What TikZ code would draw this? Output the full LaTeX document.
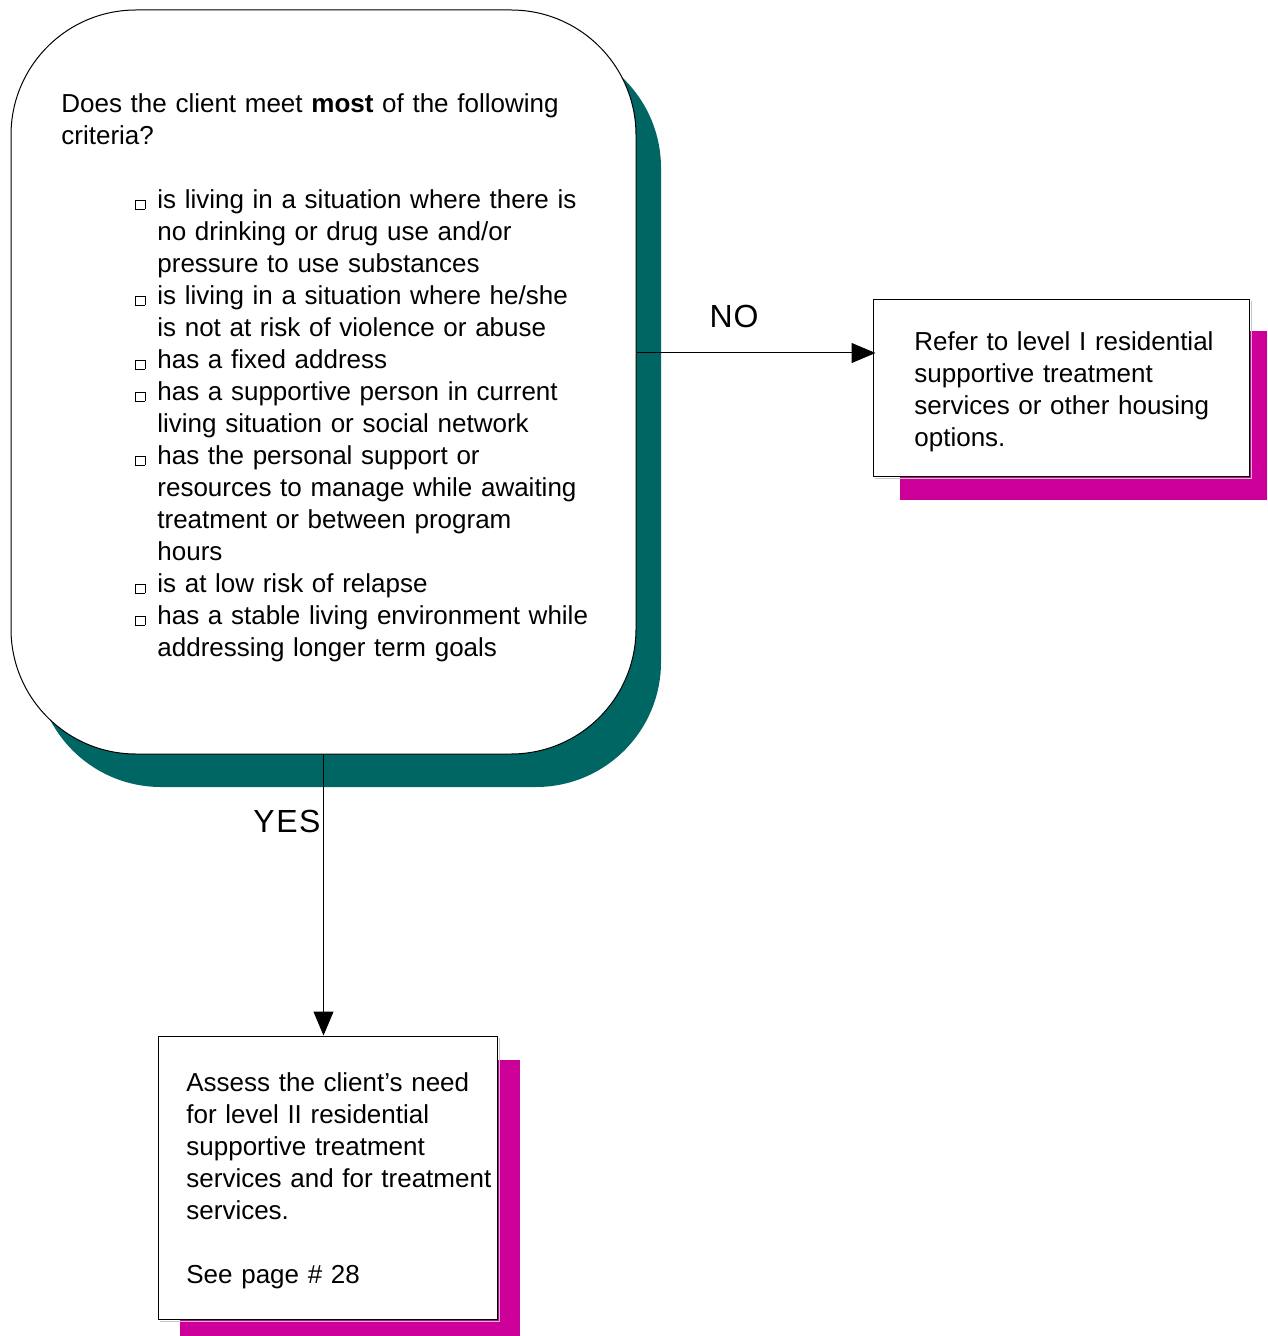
\documentclass[tikz,border=0pt]{standalone}
\usepackage{fontspec}
\setmainfont{Liberation Sans}
\usetikzlibrary{arrows.meta}
\definecolor{shadowteal}{RGB}{0,102,100}
\definecolor{shadowmag}{RGB}{204,0,153}
\newcommand{\chkbox}{{\setlength{\fboxsep}{0pt}\setlength{\fboxrule}{0.45pt}\fbox{\rule{0pt}{4pt}\rule{4.4pt}{0pt}}}}
\newcommand{\bitem}{\hspace*{48pt}\llap{\chkbox\hspace{6pt}}}
\newcommand{\citem}{\hspace*{48pt}}
\tikzset{
  txt/.style={inner sep=0pt, anchor=north west, align=left, text width=300pt,
    font=\fontsize{13pt}{16pt}\selectfont},
  qbox/.style={draw=black, line width=0.5pt, fill=white, rounded corners=62.5pt,
    minimum width=312.5pt, minimum height=372pt, inner sep=0pt},
  rbox/.style={draw=black, line width=0.5pt, fill=white, inner sep=0pt},
  lbl/.style={inner sep=0pt, anchor=base, font=\fontsize{16pt}{19pt}\selectfont},
  conn/.style={draw=black, line width=0.5pt, -{Triangle[length=12pt,width=10pt]}},
  edge2/.style={draw=gray!45, line width=0.6pt}
}
\begin{document}
\begin{tikzpicture}[x=0.5pt, y=-0.5pt]
\useasboundingbox (0,0) rectangle (1267,1336);
% shadows
\fill[shadowteal, rounded corners=62.5pt] (36,43) rectangle (661,787);
\fill[shadowmag] (900,331) rectangle (1267,500);
\fill[shadowmag] (180,1060) rectangle (520,1336);
% boxes
\node[qbox] (q) at (323.5,382) {};
\node[rbox, minimum width=188pt, minimum height=88pt] (no) at (1061,388) {};
\node[rbox, minimum width=169.5pt, minimum height=141.5pt] (yes) at (327.5,1177.5) {};
\draw[edge2] ([xshift=1pt,yshift=-1pt]no.north east) -- ([xshift=1pt,yshift=-1pt]no.south east) -- ([xshift=1pt,yshift=-1pt]no.south west);
\draw[edge2] ([xshift=1pt,yshift=-1pt]yes.north east) -- ([xshift=1pt,yshift=-1pt]yes.south east) -- ([xshift=1pt,yshift=-1pt]yes.south west);
% texts
\node[txt] (qtext) at (61,90) {\strut Does the client meet \textbf{most} of the following\\
criteria?\\[16pt]
\bitem is living in a situation where there is\\
\citem no drinking or drug use and/or\\
\citem pressure to use substances\\
\bitem is living in a situation where he/she\\
\citem is not at risk of violence or abuse\\
\bitem has a fixed address\\
\bitem has a supportive person in current\\
\citem living situation or social network\\
\bitem has the personal support or\\
\citem resources to manage while awaiting\\
\citem treatment or between program\\
\citem hours\\
\bitem is at low risk of relapse\\
\bitem has a stable living environment while\\
\citem addressing longer term goals};
\node[txt, text width=170pt] (notext) at (914,328) {\strut Refer to level I residential\\
supportive treatment\\
services or other housing\\
options.};
\node[txt, text width=160pt] (yestext) at (186,1069) {\strut Assess the client’s need\\
for level II residential\\
supportive treatment\\
services and for treatment\\
services.\\[16pt]
See page \# 28};
% connectors
\coordinate (noy) at (0,353);
\draw[conn] (q.east |- noy) -- ([xshift=1.5pt]no.west |- noy);
\draw[conn] (q.south) -- (q.south |- yes.north);
% labels
\node[lbl] (lblno) at (734,328) {N\kern0.5pt O};
\node[lbl] (lblyes) at (287,832) {Y\kern0.75pt E\kern0.75pt S};
\end{tikzpicture}
\end{document}
